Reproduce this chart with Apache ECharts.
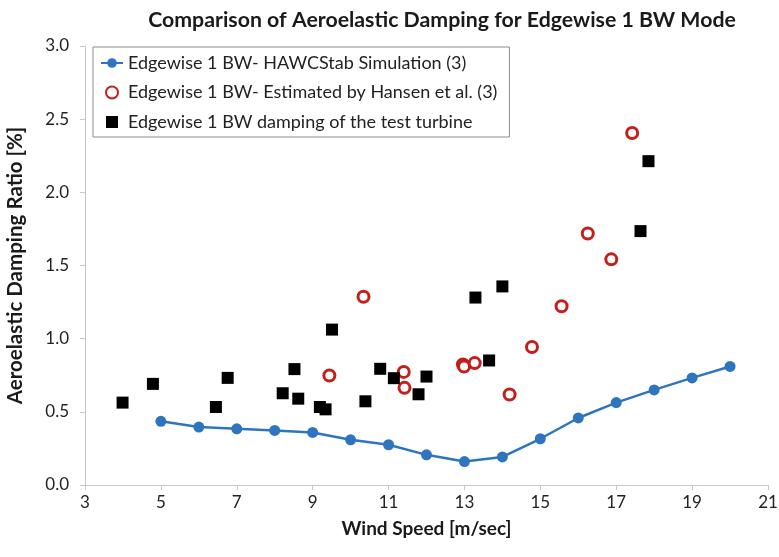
<!DOCTYPE html>
<html>
<head>
<meta charset="utf-8">
<script src="https://cdn.jsdelivr.net/npm/echarts@6/dist/echarts.min.js"></script>
<style>html,body{margin:0;padding:0;background:#fff}#c{width:779px;height:557px}</style>
</head>
<body>
<div id="c"></div>
<script>
const titleText = 'Comparison of Aeroelastic Damping for Edgewise 1 BW Mode';
const xLabel = 'Wind Speed [m/sec]';
const yLabel = 'Aeroelastic Damping Ratio [%]';
const seriesNames = [
  'Edgewise 1 BW- HAWCStab Simulation (3)',
  'Edgewise 1 BW- Estimated by Hansen et al. (3)',
  'Edgewise 1 BW damping of the test turbine'
];
const simX = [5, 6, 7, 8, 9, 10, 11, 12, 13, 14, 15, 16, 17, 18, 19, 20];
const simY = [0.435, 0.396, 0.384, 0.373, 0.359, 0.309, 0.275, 0.206, 0.160, 0.192, 0.316, 0.458, 0.563, 0.650, 0.732, 0.810];
const hanX = [9.44, 10.34, 11.40, 11.42, 12.96, 12.99, 13.27, 14.19, 14.78, 15.56, 16.25, 16.87, 17.42];
const hanY = [0.748, 1.286, 0.773, 0.664, 0.824, 0.810, 0.833, 0.618, 0.943, 1.222, 1.719, 1.542, 2.405];
const testX = [3.99, 4.79, 6.45, 6.76, 8.21, 8.52, 8.62, 9.19, 9.34, 9.51, 10.39, 10.78, 11.14, 11.79, 12.00, 13.29, 13.65, 14.00, 17.64, 17.85];
const testY = [0.563, 0.691, 0.533, 0.732, 0.627, 0.792, 0.590, 0.533, 0.517, 1.062, 0.572, 0.794, 0.730, 0.620, 0.741, 1.281, 0.851, 1.357, 1.735, 2.213];

const zip = (xs, ys) => xs.map((x, i) => [x, ys[i]]);
const FONT = 'Lato';
const BLUE = '#2e75c0', RED = '#c41f1a';
const chart = echarts.init(document.getElementById('c'), null, {renderer: 'canvas'});
chart.setOption({
  animation: false,
  backgroundColor: '#fff',
  title: {
    text: titleText, left: 437, top: 5, textAlign: 'center',
    textStyle: {fontFamily: FONT, fontWeight: 'bold', fontSize: 21.3, color: '#1a1a1a'}
  },
  legend: {
    orient: 'vertical', left: 93, top: 47,
    padding: [6, 12, 5, 7], itemGap: 9.5, itemWidth: 22, itemHeight: 12,
    symbolKeepAspect: true,
    borderColor: '#8c8c8c', borderWidth: 1, backgroundColor: '#fff',
    textStyle: {fontFamily: FONT, fontSize: 18, color: '#222', lineHeight: 20},
    data: [
      {name: seriesNames[0]},
      {name: seriesNames[1]},
      {name: seriesNames[2], icon: 'path://M0,0L10,0L10,10L0,10Z'}
    ]
  },
  grid: {left: 85, right: 11, top: 46, bottom: 72, outerBoundsMode: 'none', containLabel: false},
  xAxis: {
    type: 'value', min: 3, max: 21, interval: 2,
    name: xLabel, nameLocation: 'middle', nameGap: 34,
    nameTextStyle: {fontFamily: FONT, fontWeight: 'bold', fontSize: 19, color: '#1a1a1a'},
    axisLine: {lineStyle: {color: '#c8c8c8', width: 1}},
    axisTick: {show: true, length: 5, lineStyle: {color: '#c8c8c8'}},
    axisLabel: {fontFamily: FONT, fontSize: 17, color: '#222', margin: 9},
    splitLine: {show: false}
  },
  yAxis: {
    type: 'value', min: 0, max: 3, interval: 0.5,
    name: yLabel, nameLocation: 'middle', nameGap: 59, nameRotate: 90,
    nameTextStyle: {fontFamily: FONT, fontWeight: 'bold', fontSize: 20.5, color: '#1a1a1a'},
    axisLine: {show: true, lineStyle: {color: '#c8c8c8', width: 1}},
    axisTick: {show: true, length: 5, lineStyle: {color: '#c8c8c8'}},
    axisLabel: {fontFamily: FONT, fontSize: 17, color: '#222', margin: 16, formatter: v => v.toFixed(1)},
    splitLine: {show: false}
  },
  series: [
    {
      name: seriesNames[0], type: 'line', data: zip(simX, simY),
      symbol: 'circle', symbolSize: 11,
      lineStyle: {color: BLUE, width: 2.5},
      itemStyle: {color: BLUE}
    },
    {
      name: seriesNames[1], type: 'scatter', data: zip(hanX, hanY),
      symbol: 'circle', symbolSize: 11,
      itemStyle: {color: '#fff', borderColor: RED, borderWidth: 3, opacity: 1}
    },
    {
      name: seriesNames[2], type: 'scatter', data: zip(testX, testY),
      symbol: 'rect', symbolSize: 12,
      itemStyle: {color: '#000', opacity: 1}
    }
  ]
});
</script>
</body>
</html>
